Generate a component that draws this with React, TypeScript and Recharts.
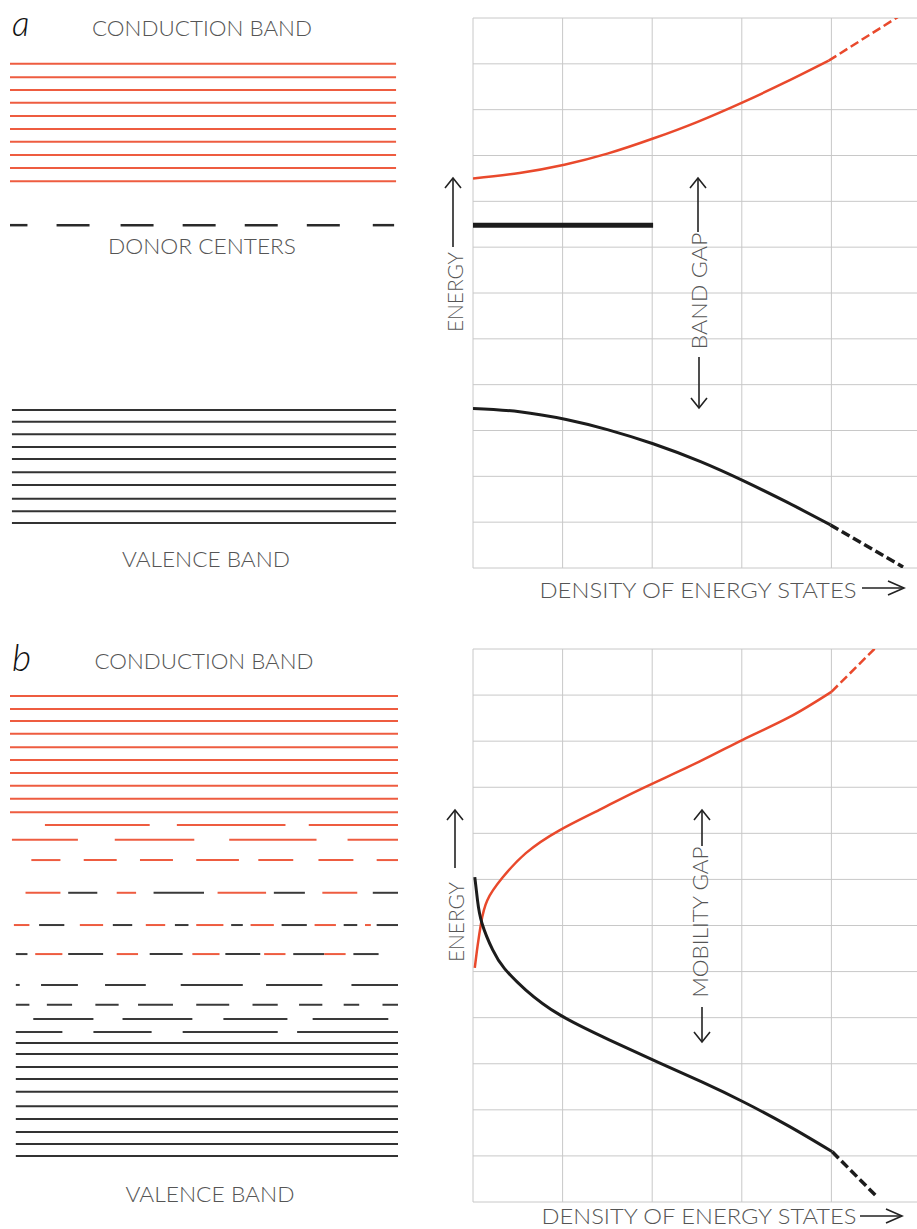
import React from 'react';
import { ComposedChart, Line, XAxis, YAxis, CartesianGrid } from 'recharts';

const RED = '#ee5c40';
const RED_CURVE = '#e9492c';
const INK = '#333333';
const CURVE_INK = '#1c1c1c';
const GRID = '#c8c8c8';
const LABEL = '#555555';
const FONT = 'Lato, "Noto Sans", sans-serif';

// energy in grid cells (0 = bottom of the graph, 12 = top), position along sample 0..100

// ---- a: crystal with donor centers ----
const aConductionLevels = [11.0, 10.71, 10.43, 10.15, 9.86, 9.58, 9.3, 9.01, 8.73, 8.44];
const aDonorLevel = 7.48;
const aDonorDashes = [[0, 4.5], [12, 20.5], [28.5, 37], [44.5, 53], [60.5, 69], [76.5, 85], [93.5, 99]];
const aValenceLevels = [3.45, 3.19, 2.92, 2.64, 2.38, 2.09, 1.81, 1.51, 1.24, 0.98];

// density of states, d = density (grid cells), e = energy
const aConductionDos = [
  { d: 0, e: 8.5 }, { d: 0.52, e: 8.62 }, { d: 1.02, e: 8.8 }, { d: 1.5, e: 9.04 }, { d: 2.01, e: 9.37 },
  { d: 2.5, e: 9.73 }, { d: 3.01, e: 10.16 }, { d: 3.5, e: 10.61 }, { d: 3.97, e: 11.07 },
];
const aConductionTail = [{ d: 3.97, e: 11.07 }, { d: 4.74, e: 12.02 }];
const aDonorDos = [{ d: 0, e: 7.48 }, { d: 2.01, e: 7.48 }];
const aValenceDos = [
  { d: 0, e: 3.48 }, { d: 0.52, e: 3.41 }, { d: 1.04, e: 3.24 }, { d: 1.5, e: 3.02 }, { d: 2.01, e: 2.71 },
  { d: 2.54, e: 2.32 }, { d: 3.02, e: 1.9 }, { d: 3.51, e: 1.43 }, { d: 3.99, e: 0.94 },
];
const aValenceTail = [{ d: 3.99, e: 0.94 }, { d: 4.8, e: 0.02 }];

// ---- b: amorphous ----
const bConductionLevels = [10.98, 10.7, 10.44, 10.16, 9.87, 9.59, 9.31, 9.03, 8.75, 8.46];
const bTailLevels = [8.18, 7.86, 7.42, 6.71, 6.01, 5.38, 4.71, 4.28, 3.97, 3.69];
const bTailSegments: [number, number, 'r' | 'k'][][] = [
  [[9, 36, 'r'], [43, 71, 'r'], [77, 100, 'r']],
  [[0.5, 17.5, 'r'], [27, 47.5, 'r'], [56.5, 79, 'r'], [87, 100, 'r']],
  [[5.5, 13, 'r'], [19, 27.5, 'r'], [33.5, 42, 'r'], [48, 59, 'r'], [64, 73, 'r'], [79.5, 88.5, 'r'], [94.5, 100, 'r']],
  [[4, 13, 'r'], [15, 22.5, 'k'], [27.5, 32.5, 'r'], [37, 50, 'k'], [53.5, 66, 'r'], [68, 76, 'k'], [80.5, 89.5, 'r'], [93.5, 100, 'k']],
  [[1, 5, 'r'], [7.5, 14, 'k'], [18, 24, 'r'], [26.5, 31.5, 'k'], [35, 40, 'r'], [42.5, 46, 'k'], [48, 55, 'r'], [57, 60, 'k'],
    [62, 68, 'r'], [70, 76.5, 'k'], [78.5, 84, 'r'], [86, 89.5, 'k'], [91.5, 93, 'r'], [94.5, 100, 'k']],
  [[1.5, 4.5, 'k'], [6.5, 13.5, 'r'], [15, 24, 'k'], [27.5, 33, 'r'], [36, 44.5, 'k'], [47, 54, 'r'], [55.5, 64.5, 'k'],
    [65.5, 71, 'r'], [73, 81, 'k'], [81, 86.5, 'r'], [88.5, 95, 'k']],
  [[1.5, 2.5, 'k'], [8, 17.5, 'k'], [24.5, 35, 'k'], [44, 60, 'k'], [66, 80.5, 'k'], [88, 100, 'k']],
  [[1.5, 5, 'k'], [9.5, 16, 'k'], [22, 28, 'k'], [33, 42, 'k'], [48, 56.5, 'k'], [62.5, 69, 'k'], [74.5, 80.5, 'k'], [86, 90, 'k'], [96, 100, 'k']],
  [[6, 21.5, 'k'], [29, 47, 'k'], [55, 71.5, 'k'], [78, 97.5, 'k']],
  [[1.5, 13.5, 'k'], [21.5, 36.5, 'k'], [44.5, 69, 'k'], [74, 100, 'k']],
];
const bValenceLevels = [3.45, 3.21, 2.93, 2.67, 2.39, 2.08, 1.8, 1.52, 1.26, 1.0];

// points in order along each curve
const bConductionDos = [
  { d: 0.02, e: 5.08 }, { d: 0.05, e: 5.54 }, { d: 0.09, e: 6.05 }, { d: 0.16, e: 6.55 }, { d: 0.33, e: 7.04 },
  { d: 0.59, e: 7.57 }, { d: 0.96, e: 8.06 }, { d: 1.41, e: 8.51 }, { d: 1.85, e: 8.94 }, { d: 2.52, e: 9.55 },
  { d: 3.01, e: 10.03 }, { d: 3.53, e: 10.52 }, { d: 4.0, e: 11.07 },
];
const bConductionTail = [{ d: 4.0, e: 11.07 }, { d: 4.5, e: 12.04 }];
const bValenceDos = [
  { d: 0.02, e: 7.05 }, { d: 0.05, e: 6.55 }, { d: 0.1, e: 6.05 }, { d: 0.22, e: 5.47 }, { d: 0.35, e: 5.07 },
  { d: 0.59, e: 4.6 }, { d: 0.97, e: 4.06 }, { d: 1.52, e: 3.52 }, { d: 2.08, e: 3.02 }, { d: 2.56, e: 2.6 },
  { d: 3.02, e: 2.17 }, { d: 3.53, e: 1.64 }, { d: 4.01, e: 1.09 },
];
const bValenceTail = [{ d: 4.01, e: 1.09 }, { d: 4.51, e: 0.11 }];

const energyTicks = [0, 1, 2, 3, 4, 5, 6, 7, 8, 9, 10, 11, 12];
const densityTicks = [0, 1, 2, 3, 4, 5];

type Level = { e: number; x1: number; x2: number; color: string; w: number };

const full = (levels: number[], color: string, x1 = 0, x2 = 100): Level[] =>
  levels.map((e) => ({ e, x1, x2, color, w: 2 }));

const aLevels: Level[] = [
  ...full(aConductionLevels, RED, 0, 99.5),
  ...aDonorDashes.map(([x1, x2]) => ({ e: aDonorLevel, x1, x2, color: '#2a2a2a', w: 2.5 })),
  ...full(aValenceLevels, INK, 0.5, 99.5),
];

const bLevels: Level[] = [
  ...full(bConductionLevels, RED),
  ...bTailSegments.flatMap((row, i) =>
    row.map(([x1, x2, c]) => ({ e: bTailLevels[i], x1, x2, color: c === 'r' ? RED : '#3a3a3a', w: 2 }))
  ),
  ...full(bValenceLevels, INK, 1.5, 100),
];

type Margin = { top: number; bottom: number };

function LevelPanel({ top, height, m, levels }: { top: number; height: number; m: Margin; levels: Level[] }) {
  return (
    <div style={{ position: 'absolute', left: 0, top }}>
      <ComposedChart width={410} height={height} margin={{ top: m.top, bottom: m.bottom, left: 10, right: 12 }}>
        <XAxis type="number" dataKey="x" domain={[0, 100]} hide allowDataOverflow />
        <YAxis type="number" dataKey="y" domain={[0, 12]} hide allowDataOverflow />
        {levels.map((l, i) => (
          <Line
            key={i}
            data={[{ x: l.x1, y: l.e }, { x: l.x2, y: l.e }]}
            dataKey="y"
            type="linear"
            stroke={l.color}
            strokeWidth={l.w}
            dot={false}
            activeDot={false}
            isAnimationActive={false}
          />
        ))}
      </ComposedChart>
    </div>
  );
}

type Curve = { data: { d: number; e: number }[]; color: string; w: number; dash?: string; type?: 'natural' | 'linear' };

function DosPanel({ top, height, m, curves }: { top: number; height: number; m: Margin; curves: Curve[] }) {
  return (
    <div style={{ position: 'absolute', left: 440, top }}>
      <ComposedChart width={481} height={height} margin={{ top: m.top, bottom: m.bottom, left: 33, right: 0 }}>
        <CartesianGrid stroke={GRID} strokeWidth={1} />
        <XAxis type="number" dataKey="d" domain={[0, 5]} ticks={densityTicks} hide allowDataOverflow />
        <YAxis type="number" domain={[0, 12]} ticks={energyTicks} hide allowDataOverflow />
        {curves.map((c, i) => (
          <Line
            key={i}
            data={c.data}
            dataKey="e"
            type={c.type ?? 'natural'}
            stroke={c.color}
            strokeWidth={c.w}
            strokeDasharray={c.dash}
            strokeLinecap="butt"
            dot={false}
            activeDot={false}
            isAnimationActive={false}
          />
        ))}
      </ComposedChart>
    </div>
  );
}

const aCurves: Curve[] = [
  { data: aConductionDos, color: RED_CURVE, w: 2.5 },
  { data: aConductionTail, color: RED_CURVE, w: 2.5, dash: '9 4', type: 'linear' },
  { data: aDonorDos, color: CURVE_INK, w: 5, type: 'linear' },
  { data: aValenceDos, color: CURVE_INK, w: 3 },
  { data: aValenceTail, color: CURVE_INK, w: 3.5, dash: '9 4', type: 'linear' },
];
const bCurves: Curve[] = [
  { data: bConductionDos, color: RED_CURVE, w: 2.5 },
  { data: bConductionTail, color: RED_CURVE, w: 2.5, dash: '9 4', type: 'linear' },
  { data: bValenceDos, color: CURVE_INK, w: 3 },
  { data: bValenceTail, color: CURVE_INK, w: 3.5, dash: '9 4', type: 'linear' },
];

// arrow: line from (x1,y1) to tip (x2,y2) with open chevron head
function Arrow({ x1, y1, x2, y2, head = 10, spread = 8 }: { x1: number; y1: number; x2: number; y2: number; head?: number; spread?: number }) {
  const len = Math.hypot(x2 - x1, y2 - y1);
  const ux = (x2 - x1) / len;
  const uy = (y2 - y1) / len;
  const bx = x2 - ux * head;
  const by = y2 - uy * head;
  const px = -uy * spread;
  const py = ux * spread;
  return (
    <g stroke="#222" strokeWidth={1.6} fill="none">
      <line x1={x1} y1={y1} x2={x2} y2={y2} />
      <polyline points={`${bx + px},${by + py} ${x2},${y2} ${bx - px},${by - py}`} />
    </g>
  );
}

function T({ x, y, len, children, rotate }: { x: number; y: number; len: number; children: string; rotate?: boolean }) {
  return (
    <text
      x={x}
      y={y}
      textAnchor="middle"
      textLength={len}
      lengthAdjust="spacingAndGlyphs"
      fontFamily={FONT}
      fontWeight={300}
      fontSize={21}
      fill={LABEL}
      transform={rotate ? `rotate(-90 ${x} ${y})` : undefined}
    >
      {children}
    </text>
  );
}

function Labels() {
  return (
    <svg width={917} height={1229} style={{ position: 'absolute', left: 0, top: 0, pointerEvents: 'none' }}>
      <text x={12} y={36} fontFamily={FONT} fontStyle="italic" fontWeight={300} fontSize={35} fill="#111">a</text>
      <text x={12} y={671} fontFamily={FONT} fontStyle="italic" fontWeight={300} fontSize={37} fill="#111">b</text>

      <T x={202} y={36} len={220}>CONDUCTION BAND</T>
      <T x={202} y={254} len={188}>DONOR CENTERS</T>
      <T x={206} y={567} len={168}>VALENCE BAND</T>
      <T x={204} y={669} len={219}>CONDUCTION BAND</T>
      <T x={210} y={1202} len={169}>VALENCE BAND</T>

      <T x={698} y={598} len={317}>DENSITY OF ENERGY STATES</T>
      <Arrow x1={862} y1={588} x2={904} y2={588} head={16} spread={7} />
      <T x={699} y={1224} len={315}>DENSITY OF ENERGY STATES</T>
      <Arrow x1={860} y1={1216} x2={902} y2={1216} head={16} spread={7} />

      <T x={463} y={292} len={80} rotate>ENERGY</T>
      <Arrow x1={453} y1={247} x2={453} y2={178} />
      <T x={707} y={291} len={117} rotate>BAND GAP</T>
      <Arrow x1={698} y1={232} x2={698} y2={178} />
      <Arrow x1={699} y1={357} x2={699} y2={408} />

      <T x={464} y={922} len={80} rotate>ENERGY</T>
      <Arrow x1={455} y1={868} x2={455} y2={810} />
      <T x={708} y={922} len={151} rotate>MOBILITY GAP</T>
      <Arrow x1={702} y1={846} x2={702} y2={810} />
      <Arrow x1={702} y1={1007} x2={702} y2={1042} />
    </svg>
  );
}

export default function App() {
  return (
    <div style={{ position: 'absolute', left: 0, top: 0, width: 917, height: 1229, overflow: 'hidden', background: '#fff' }}>
      <LevelPanel top={0} height={617} m={{ top: 18, bottom: 49 }} levels={aLevels} />
      <DosPanel top={0} height={617} m={{ top: 18, bottom: 49 }} curves={aCurves} />
      <LevelPanel top={620} height={609} m={{ top: 29, bottom: 27 }} levels={bLevels} />
      <DosPanel top={620} height={609} m={{ top: 29, bottom: 27 }} curves={bCurves} />
      <Labels />
    </div>
  );
}
